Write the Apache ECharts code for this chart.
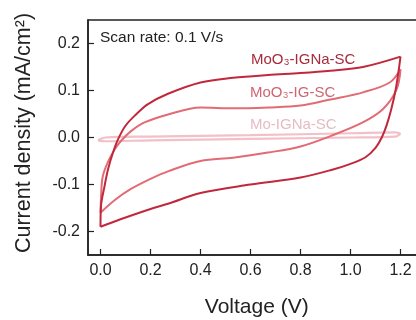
<!DOCTYPE html>
<html>
<head>
<meta charset="utf-8">
<script src="https://cdn.jsdelivr.net/npm/echarts@6/dist/echarts.min.js"></script>
<style>
  html, body { margin: 0; padding: 0; background: #fff; }
  #chart { width: 416px; height: 320px; }
</style>
</head>
<body>
<div id="chart"></div>
<script>
// CV loops at 0.1 V/s, voltage (V) vs current density (mA/cm2)
// forward (upper) branch 0 -> 1.2 V, reverse (lower) branch 1.2 -> 0 V
const ignaUpV = [0, 0.002, 0.016, 0.03, 0.05, 0.07, 0.1, 0.14, 0.19, 0.27, 0.4, 0.53, 0.67, 0.8, 0.92, 1.05, 1.2];
const ignaUpI = [-0.19, -0.146, -0.104, -0.068, -0.032, -0.004, 0.025, 0.048, 0.071, 0.093, 0.117, 0.127, 0.133, 0.137, 0.142, 0.150, 0.172];
const ignaDnV = [1.2, 1.192, 1.18, 1.163, 1.145, 1.125, 1.1, 1.06, 1.0, 0.93, 0.8, 0.6, 0.4, 0.27, 0.2, 0.08, 0];
const ignaDnI = [0.172, 0.14, 0.1, 0.06, 0.027, 0.0, -0.022, -0.042, -0.056, -0.068, -0.085, -0.1, -0.118, -0.141, -0.152, -0.174, -0.19];

const igUpV = [0, 0.003, 0.009, 0.029, 0.056, 0.081, 0.121, 0.176, 0.27, 0.4, 0.53, 0.67, 0.8, 0.92, 1.05, 1.157, 1.2];
const igUpI = [-0.16, -0.117, -0.083, -0.053, -0.026, -0.008, 0.013, 0.032, 0.049, 0.064, 0.062, 0.064, 0.068, 0.081, 0.096, 0.117, 0.145];
const igDnV = [1.2, 1.184, 1.129, 1.049, 0.92, 0.8, 0.67, 0.53, 0.4, 0.27, 0.2, 0.12, 0.06, 0];
const igDnI = [0.145, 0.102, 0.060, 0.032, 0.003, -0.019, -0.032, -0.043, -0.05, -0.072, -0.088, -0.11, -0.132, -0.16];

const moUpV = [-0.01, 0.02, 0.2, 0.6, 1.0, 1.18, 1.2];
const moUpI = [-0.006, 0.0, 0.002, 0.005, 0.009, 0.011, 0.008];
const moDnV = [1.2, 1.18, 1.0, 0.6, 0.2, 0.02, -0.01];
const moDnI = [0.008, 0.002, 0.0, -0.003, -0.006, -0.008, -0.006];

const xTicks = [0, 0.2, 0.4, 0.6, 0.8, 1.0, 1.2];
const yTicks = [-0.2, -0.1, 0, 0.1, 0.2];

const pairs = (v, i) => v.map((x, k) => [x, i[k]]);
const font = 'Liberation Sans, Arial, sans-serif';

const branch = (v, i, color, width, opacity) => ({
  type: 'line',
  data: pairs(v, i),
  smooth: 0.35,
  symbol: 'none',
  silent: true,
  lineStyle: { color: color, width: width, opacity: opacity }
});

const myChart = echarts.init(document.getElementById('chart'));
let option;

option = {
  animation: false,
  grid: {
    left: 88,
    top: 20,
    width: 337.5,
    height: 235,
    outerBoundsMode: 'none',
    show: true,
    borderColor: '#222',
    borderWidth: 1.5,
    backgroundColor: 'transparent'
  },
  xAxis: {
    type: 'value',
    min: -0.05,
    max: 1.3,
    name: 'Voltage (V)',
    nameLocation: 'middle',
    nameGap: 42,
    nameTextStyle: { fontFamily: font, fontSize: 21, color: '#222' },
    axisLine: { onZero: false, lineStyle: { color: '#222', width: 1.5 } },
    axisTick: { inside: true, length: 6, customValues: xTicks, lineStyle: { color: '#222', width: 1.2 } },
    axisLabel: {
      customValues: xTicks,
      margin: 8,
      fontFamily: font,
      fontSize: 16,
      color: '#222',
      formatter: (v) => v.toFixed(1)
    },
    splitLine: { show: false }
  },
  yAxis: {
    type: 'value',
    min: -0.25,
    max: 0.25,
    axisLine: { onZero: false, lineStyle: { color: '#222', width: 1.5 } },
    axisTick: { inside: true, length: 6, customValues: yTicks, lineStyle: { color: '#222', width: 1.2 } },
    axisLabel: {
      customValues: yTicks,
      margin: 8,
      fontFamily: font,
      fontSize: 16,
      color: '#222',
      formatter: (v) => v.toFixed(1)
    },
    splitLine: { show: false }
  },
  graphic: [
    {
      type: 'text',
      x: 24, y: 133,
      rotation: Math.PI / 2,
      style: {
        text: 'Current density (mA/cm²)',
        font: '21.5px ' + font,
        fill: '#222',
        align: 'center',
        verticalAlign: 'middle'
      }
    },
    {
      type: 'text',
      x: 100, y: 38,
      style: { text: 'Scan rate: 0.1 V/s', font: '15.5px ' + font, fill: '#222', verticalAlign: 'middle' }
    },
    {
      type: 'text',
      x: 251, y: 60,
      style: { text: 'MoO₃-IGNa-SC', font: '15px ' + font, fill: '#a52c3c', verticalAlign: 'middle' }
    },
    {
      type: 'text',
      x: 250, y: 93,
      style: { text: 'MoO₃-IG-SC', font: '15px ' + font, fill: '#cf6572', verticalAlign: 'middle' }
    },
    {
      type: 'text',
      x: 250, y: 125,
      style: { text: 'Mo-IGNa-SC', font: '15px ' + font, fill: '#e5bcc3', verticalAlign: 'middle' }
    }
  ],
  series: [
    branch(moUpV, moUpI, '#f2b8c2', 2.2, 0.9),
    branch(moDnV, moDnI, '#f2b8c2', 2.2, 0.9),
    branch(igUpV, igUpI, '#e26b74', 2, 1),
    branch(igDnV, igDnI, '#e26b74', 2, 1),
    branch(ignaUpV, ignaUpI, '#c0283c', 2, 1),
    branch(ignaDnV, ignaDnI, '#c0283c', 2, 1)
  ]
};

option && myChart.setOption(option);
</script>
</body>
</html>
